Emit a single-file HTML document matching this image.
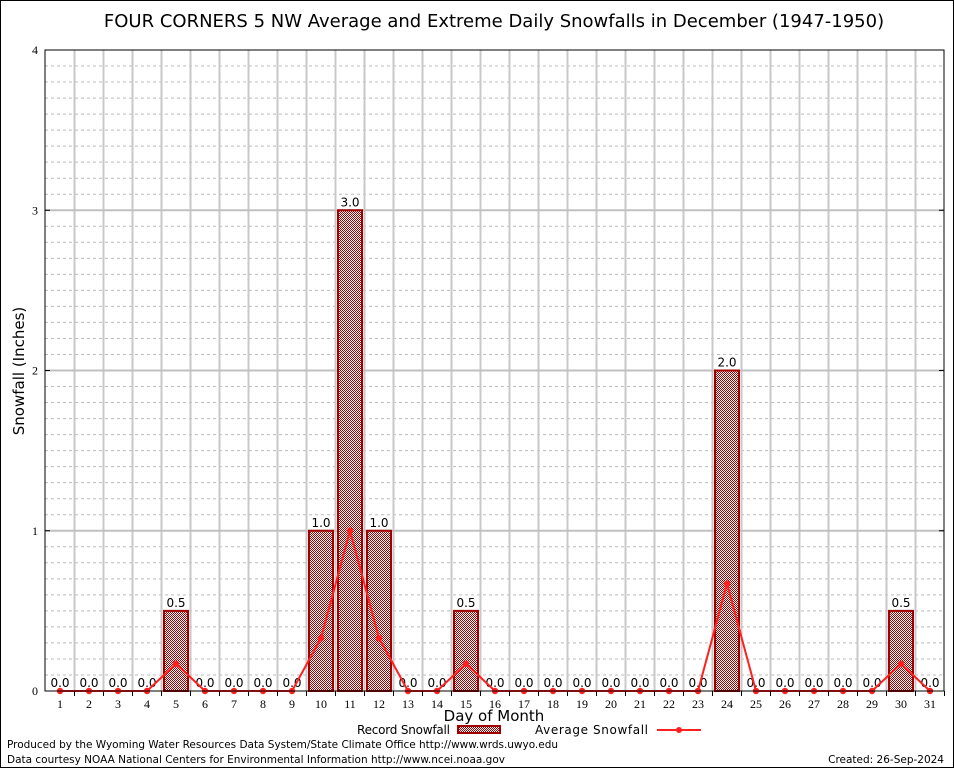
<!DOCTYPE html>
<html><head><meta charset="utf-8"><style>
html,body{margin:0;padding:0;background:#fff}
svg{display:block}
</style></head><body>
<svg id="chart" width="954" height="768" xmlns="http://www.w3.org/2000/svg" font-family="'DejaVu Sans','Liberation Sans',sans-serif">
<defs>
<pattern id="chk" width="2" height="2" patternUnits="userSpaceOnUse">
<rect width="2" height="2" fill="#fff"/><rect width="1" height="1" fill="#a00000"/><rect x="1" y="1" width="1" height="1" fill="#a00000"/>
</pattern>
</defs>
<rect x="0.5" y="0.5" width="953" height="767" fill="#fff" stroke="#000"/>
<text x="494" y="27" font-size="18" text-anchor="middle">FOUR CORNERS 5 NW Average and Extreme Daily Snowfalls in December (1947-1950)</text>
<g id="grid"></g>
<g id="bars"></g>
<g id="avg"></g>
<g id="axes"></g>
<text transform="translate(24,371) rotate(-90)" font-size="15" text-anchor="middle">Snowfall (Inches)</text>
<text x="494" y="721" font-size="15" text-anchor="middle">Day of Month</text>
<g>
<text x="357" y="734" font-size="12" textLength="93">Record Snowfall</text>
<rect x="458" y="726" width="42" height="7" fill="url(#chk)" stroke="#a00000" stroke-width="2"/>
</g>
<g>
<text x="535" y="734" font-size="12" textLength="113">Average Snowfall</text>
<line x1="657" y1="730" x2="701" y2="730" stroke="#ff2020" stroke-width="2"/>
<circle cx="679" cy="730" r="3" fill="#ff2020"/>
</g>
<text x="7" y="748" font-size="10.5" textLength="551">Produced by the Wyoming Water Resources Data System/State Climate Office http://www.wrds.uwyo.edu</text>
<text x="7" y="763" font-size="10.5" textLength="498">Data courtesy NOAA National Centers for Environmental Information http://www.ncei.noaa.gov</text>
<text x="944" y="763" font-size="10.5" text-anchor="end">Created: 26-Sep-2024</text>
</svg>
<script>
const days = Array.from({length:31},(_,i)=>i+1);
const recordSnow = [0,0,0,0,0.5,0,0,0,0,1.0,3.0,1.0,0,0,0.5,0,0,0,0,0,0,0,0,2.0,0,0,0,0,0,0.5,0];
const avgSnow = [0,0,0,0,0.17,0,0,0,0,0.33,1.0,0.33,0,0,0.17,0,0,0,0,0,0,0,0,0.67,0,0,0,0,0,0.17,0];
const yTicks = [0,1,2,3,4];

const NS='http://www.w3.org/2000/svg';
const L=45,R=944,T=50,B=691,yMax=4;
const xs=d=>60+(d-1)*29;
const ys=v=>B-(v/yMax)*(B-T);
function mk(tag,attrs,parent){const e=document.createElementNS(NS,tag);for(const k in attrs)e.setAttribute(k,attrs[k]);parent.appendChild(e);return e;}
const grid=document.getElementById('grid'),bars=document.getElementById('bars'),avg=document.getElementById('avg'),axes=document.getElementById('axes');
for(let i=1;i<yMax*10;i++){if(i%10===0)continue;const y=ys(i/10);
const g=mk('line',{x1:L,x2:R,y1:y,y2:y,stroke:'#bbb','stroke-dasharray':'3,3'},grid);

}
for(let d=1;d<31;d++){const x=xs(d)+14.5;
const g=mk('line',{x1:x,x2:x,y1:T,y2:B,stroke:'#c8c8c8','stroke-width':2},grid);

}
yTicks.forEach(v=>{const y=ys(v);
if(v>0&&v<yMax){const g=mk('line',{x1:L,x2:R,y1:y,y2:y,stroke:'#c0c0c0','stroke-width':2},grid);

}
const t=mk('text',{x:L-7,y:y+4,'font-size':12,'text-anchor':'end','font-family':"'Liberation Serif',serif"},axes);t.textContent=v;


const tk=mk('line',{x1:L,x2:L+5,y1:y,y2:y,stroke:'#000'},axes);


const tk2=mk('line',{x1:R-5,x2:R,y1:y,y2:y,stroke:'#000'},axes);


});
days.forEach((d,i)=>{const x=xs(d);const v=recordSnow[i];
if(v>0){const r=mk('rect',{x:x-12,y:ys(v),width:24,height:B-ys(v),fill:'url(#chk)',stroke:'#a00000','stroke-width':2},bars);

}
const lb=mk('text',{x:x,y:ys(v)-4,'font-size':12,'text-anchor':'middle'},bars);lb.textContent=v.toFixed(1);


const t=mk('text',{x:x,y:B+17,'font-size':12,'text-anchor':'middle','font-family':"'Liberation Serif',serif"},axes);t.textContent=d;


const tk=mk('line',{x1:x+14.5,x2:x+14.5,y1:B,y2:B+5,stroke:'#000'},axes);


});
const pl=mk('polyline',{points:days.map((d,i)=>xs(d)+','+ys(avgSnow[i])).join(' '),fill:'none',stroke:'#ff2020','stroke-width':2},avg);


days.forEach((d,i)=>{const c=mk('circle',{cx:xs(d),cy:ys(avgSnow[i]),r:3.2,fill:'#ff2020'},avg);

});
const fr=mk('rect',{x:L,y:T,width:R-L,height:B-T,fill:'none',stroke:'#000','stroke-width':1},axes);


</script>
</body></html>
